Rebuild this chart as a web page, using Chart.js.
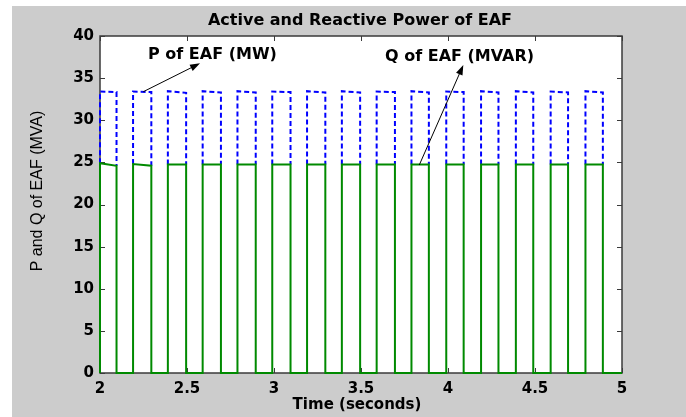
<!DOCTYPE html>
<html>
<head>
<meta charset="utf-8">
<style>
  html, body { margin: 0; padding: 0; background: #fff; }
  #wrap { width: 686px; height: 417px; }
</style>
<script src="https://cdn.jsdelivr.net/npm/chart.js@4.4.0/dist/chart.umd.min.js"></script>
</head>
<body>
<div id="wrap"><canvas id="myChart" width="686" height="417"></canvas></div>
<script>
// pulse timing (seconds)
const pulseOn  = [2.00, 2.19, 2.39, 2.59, 2.79, 2.99, 3.19, 3.39, 3.59, 3.79, 3.99, 4.19, 4.39, 4.59, 4.79];
const pulseOff = [2.095, 2.295, 2.495, 2.695, 2.895, 3.095, 3.295, 3.495, 3.695, 3.89, 4.09, 4.29, 4.49, 4.69, 4.89];

// dashed blue series, level at start / end of each pulse
const blueStart = [33.4, 33.4, 33.45, 33.45, 33.45, 33.4, 33.45, 33.45, 33.4, 33.45, 33.4, 33.45, 33.45, 33.4, 33.45];
const blueEnd   = [33.35, 33.35, 33.25, 33.3, 33.3, 33.35, 33.3, 33.3, 33.35, 33.3, 33.35, 33.3, 33.3, 33.3, 33.3];

// solid green series
const greenStart = [24.9, 24.8, 24.75, 24.75, 24.75, 24.75, 24.75, 24.75, 24.75, 24.75, 24.75, 24.75, 24.75, 24.75, 24.75];
const greenEnd   = [24.6, 24.6, 24.75, 24.75, 24.75, 24.75, 24.75, 24.75, 24.75, 24.75, 24.75, 24.75, 24.75, 24.75, 24.75];

const xTicks = [2, 2.5, 3, 3.5, 4, 4.5, 5];
const yTicks = [0, 5, 10, 15, 20, 25, 30, 35, 40];

const tFirst = 2, tLast = 5;

// green: full square wave down to zero
let buildGreen = () => {
    let pts = [];
    pulseOn.forEach((on, i) => {
        pts.push({ x: on, y: 0 });
        pts.push({ x: on, y: greenStart[i] });
        pts.push({ x: pulseOff[i], y: greenEnd[i] });
        pts.push({ x: pulseOff[i], y: 0 });
    });
    pts.push({ x: tLast, y: 0 });
    return pts;
};

// blue: the part below the green level is hidden in the original, so draw only the tops
let buildBlue = () => {
    let pts = [];
    pulseOn.forEach((on, i) => {
        pts.push({ x: on, y: greenStart[i] });
        pts.push({ x: on, y: blueStart[i] });
        pts.push({ x: pulseOff[i], y: blueEnd[i] });
        pts.push({ x: pulseOff[i], y: greenEnd[i] });
        pts.push({ x: pulseOff[i], y: null });
    });
    return pts;
};

const notes = [
    { text: "P of EAF (MW)",   tx: 2.276, ty: 37.74, from: [2.249, 33.39], to: [2.575, 36.76] },
    { text: "Q of EAF (MVAR)", tx: 3.638, ty: 37.54, from: [3.835, 24.69], to: [4.088, 36.56] },
];

const boldFont = "bold 16px 'DejaVu Sans'";

let framePlugin = {
    id: "frame",
    beforeDraw(chart) {
        const c = chart.ctx, a = chart.chartArea;
        c.save();
        c.fillStyle = "#fff";
        c.fillRect(0, 0, chart.width, chart.height);
        c.fillStyle = "#cccccc";
        c.fillRect(12, 6, chart.width - 12, chart.height - 6);
        c.fillStyle = "#fff";
        c.fillRect(a.left, a.top, a.right - a.left, a.bottom - a.top);
        c.restore();
    },
    beforeDatasetsDraw(chart) {
        const c = chart.ctx, a = chart.chartArea;
        const xs = chart.scales.x, ys = chart.scales.y;
        c.save();
        c.strokeStyle = "#3a3a3a";
        c.lineWidth = 1.5;
        c.strokeRect(a.left, a.top, a.right - a.left, a.bottom - a.top);
        c.lineWidth = 1;
        c.beginPath();
        xTicks.forEach(v => {
            const px = Math.round(xs.getPixelForValue(v)) + 0.5;
            c.moveTo(px, a.bottom); c.lineTo(px, a.bottom - 5);
            c.moveTo(px, a.top); c.lineTo(px, a.top + 5);
        });
        yTicks.forEach(v => {
            const py = Math.round(ys.getPixelForValue(v)) + 0.5;
            c.moveTo(a.left, py); c.lineTo(a.left + 5, py);
            c.moveTo(a.right, py); c.lineTo(a.right - 5, py);
        });
        c.stroke();
        c.restore();
    },
    afterDraw(chart) {
        const c = chart.ctx;
        const xs = chart.scales.x, ys = chart.scales.y;
        c.save();
        c.fillStyle = "#000";
        c.textBaseline = "middle";

        // title and axis titles
        c.font = boldFont;
        c.textAlign = "center";
        c.fillText("Active and Reactive Power of EAF", 360, 21);
        c.font = "bold 15px 'DejaVu Sans'";
        c.fillText("Time (seconds)", 357, 405);
        c.save();
        c.translate(38, 191);
        c.rotate(-Math.PI / 2);
        c.font = "16px 'Liberation Sans'";
        c.fillText("P and Q of EAF (MVA)", 0, 0);
        c.restore();

        // annotations with arrows
        notes.forEach(n => {
            c.font = boldFont;
            c.textAlign = "left";
            c.fillText(n.text, xs.getPixelForValue(n.tx), ys.getPixelForValue(n.ty));
            const x1 = xs.getPixelForValue(n.from[0]), y1 = ys.getPixelForValue(n.from[1]);
            const x2 = xs.getPixelForValue(n.to[0]), y2 = ys.getPixelForValue(n.to[1]);
            const ang = Math.atan2(y2 - y1, x2 - x1);
            c.strokeStyle = "#000";
            c.lineWidth = 1;
            c.beginPath();
            c.moveTo(x1, y1);
            c.lineTo(x2 - 8 * Math.cos(ang), y2 - 8 * Math.sin(ang));
            c.stroke();
            c.beginPath();
            c.moveTo(x2, y2);
            c.lineTo(x2 - 10 * Math.cos(ang) + 3.5 * Math.sin(ang), y2 - 10 * Math.sin(ang) - 3.5 * Math.cos(ang));
            c.lineTo(x2 - 10 * Math.cos(ang) - 3.5 * Math.sin(ang), y2 - 10 * Math.sin(ang) + 3.5 * Math.cos(ang));
            c.closePath();
            c.fill();
        });
        c.restore();
    }
};

const ctx = document.getElementById("myChart");

let chart = new Chart(ctx, {
    type: "line",
    data: {
        datasets: [
            {
                label: "Q of EAF",
                data: buildGreen(),
                borderColor: "#008a00",
                borderWidth: 2,
                pointRadius: 0,
                tension: 0,
                fill: false,
                clip: false,
            },
            {
                label: "P of EAF",
                data: buildBlue(),
                borderColor: "#0000ff",
                borderWidth: 2,
                borderDash: [5, 3],
                pointRadius: 0,
                tension: 0,
                fill: false,
                spanGaps: false,
                clip: false,
            },
        ]
    },
    options: {
        responsive: false,
        animation: false,
        events: [],
        layout: { padding: { left: 0, top: 36, right: 64, bottom: 0 } },
        plugins: {
            legend: { display: false },
            title: { display: false },
            tooltip: { enabled: false },
        },
        scales: {
            x: {
                type: "linear",
                min: tFirst,
                max: tLast,
                afterBuildTicks: s => { s.ticks = xTicks.map(v => ({ value: v })); },
                afterFit: s => { s.height = 44; },
                grid: { display: false, drawTicks: false },
                border: { display: false },
                ticks: {
                    color: "#000",
                    font: { family: "DejaVu Sans", size: 15, weight: "bold" },
                    padding: 7,
                    maxRotation: 0,
                    callback: v => String(v),
                },
            },
            y: {
                type: "linear",
                min: 0,
                max: 40,
                afterBuildTicks: s => { s.ticks = yTicks.map(v => ({ value: v })); },
                afterFit: s => { s.width = 100; },
                grid: { display: false, drawTicks: false },
                border: { display: false },
                ticks: {
                    color: "#000",
                    font: { family: "DejaVu Sans", size: 15, weight: "bold" },
                    padding: 6,
                    callback: v => String(v),
                },
            },
        },
    },
    plugins: [framePlugin],
});
</script>
</body>
</html>
